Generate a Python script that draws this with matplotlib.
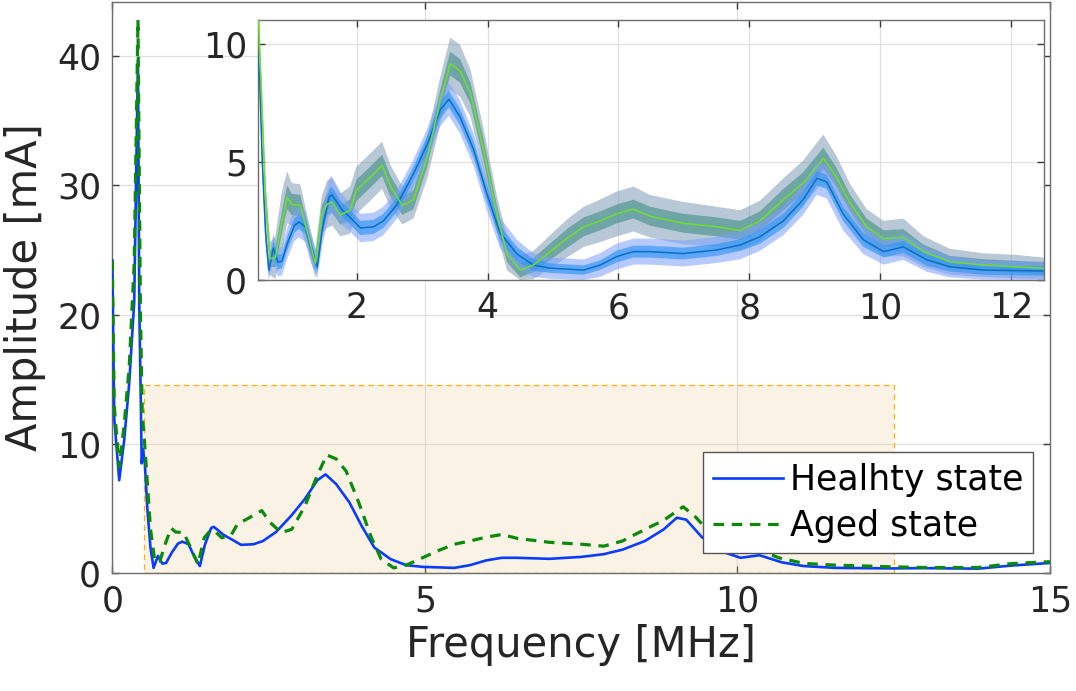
import numpy as np
import matplotlib
matplotlib.use("Agg")
import matplotlib.pyplot as plt
from matplotlib.patches import Rectangle

plt.rcParams['font.family'] = ['DejaVu Sans']

# ---------------- data ----------------
freq_healthy = [0.00, 0.03, 0.11, 0.19, 0.27, 0.35, 0.41, 0.43, 0.455, 0.47,
                0.49, 0.52, 0.56, 0.61, 0.66, 0.73, 0.80, 0.86, 0.95, 1.05,
                1.12, 1.22, 1.30, 1.40, 1.48, 1.58, 1.62, 1.70, 1.77, 1.90,
                2.06, 2.26, 2.41, 2.62, 2.87, 3.08, 3.28, 3.41, 3.58, 3.79,
                3.99, 4.19, 4.45, 4.70, 4.96, 5.47, 5.72, 5.98, 6.23, 6.48,
                6.99, 7.50, 7.86, 8.16, 8.52, 8.82, 9.03, 9.18, 9.43, 9.74,
                10.05, 10.35, 10.71, 11.06, 11.57, 12.48, 13.00, 13.85, 14.38, 15.00]
amp_healthy = [24.2, 12.0, 7.2, 10.3, 14.7, 21.0, 39.7, 21.0, 13.4, 8.5,
               9.6, 8.5, 5.0, 2.0, 0.42, 1.35, 0.75, 0.8, 1.6, 2.3,
               2.45, 2.25, 1.4, 0.56, 2.2, 3.5, 3.6, 3.3, 3.0, 2.65,
               2.2, 2.25, 2.5, 3.2, 4.5, 5.75, 7.2, 7.65, 6.9, 5.5,
               3.65, 2.0, 1.1, 0.63, 0.5, 0.42, 0.63, 1.0, 1.2, 1.2,
               1.12, 1.27, 1.48, 1.83, 2.5, 3.4, 4.3, 4.15, 2.8, 1.7,
               1.2, 1.4, 0.85, 0.56, 0.42, 0.38, 0.4, 0.36, 0.6, 0.8]
spread_healthy_inner = [0.3] * 10 + [0.3, 0.3, 0.3, 0.3, 0.25, 0.3, 0.3, 0.3, 0.3, 0.3,
                        0.3, 0.3, 0.3, 0.25, 0.3, 0.35, 0.35, 0.3, 0.3, 0.3,
                        0.3, 0.3, 0.3, 0.3, 0.3, 0.35, 0.35, 0.35, 0.35, 0.35,
                        0.35, 0.3, 0.3, 0.25, 0.2, 0.2, 0.2, 0.25, 0.25, 0.25,
                        0.25, 0.25, 0.25, 0.3, 0.3, 0.3, 0.3, 0.3, 0.3, 0.3,
                        0.25, 0.25, 0.25, 0.2, 0.2, 0.2, 0.2, 0.2, 0.2, 0.2]
spread_healthy_outer = [0.6] * 10 + [0.6, 0.6, 0.6, 0.6, 0.5, 0.6, 0.6, 0.6, 0.65, 0.65,
                        0.65, 0.65, 0.6, 0.5, 0.7, 0.8, 0.8, 0.7, 0.65, 0.6,
                        0.6, 0.6, 0.6, 0.6, 0.6, 0.65, 0.7, 0.7, 0.7, 0.7,
                        0.7, 0.65, 0.6, 0.5, 0.45, 0.45, 0.5, 0.55, 0.55, 0.55,
                        0.55, 0.55, 0.6, 0.6, 0.6, 0.65, 0.7, 0.7, 0.7, 0.6,
                        0.55, 0.55, 0.5, 0.45, 0.4, 0.4, 0.4, 0.4, 0.4, 0.4]

freq_aged = [0.00, 0.03, 0.11, 0.19, 0.27, 0.35, 0.41, 0.45, 0.48, 0.50,
             0.56, 0.61, 0.68, 0.76, 0.86, 0.94, 1.01, 1.14, 1.25, 1.37,
             1.47, 1.55, 1.63, 1.75, 1.90, 2.00, 2.21, 2.39, 2.52, 2.70,
             2.87, 3.08, 3.28, 3.43, 3.58, 3.74, 3.94, 4.14, 4.30, 4.50,
             4.70, 4.96, 5.21, 5.47, 5.72, 5.98, 6.23, 6.48, 6.99, 7.50,
             7.86, 8.16, 8.52, 8.82, 9.13, 9.33, 9.54, 9.79, 10.05, 10.35,
             10.66, 11.06, 11.57, 12.08, 12.48, 13.00, 13.85, 14.38, 15.00]
amp_aged = [24.2, 13.0, 8.2, 11.5, 16.0, 24.0, 42.8, 20.0, 12.0, 11.2,
            7.0, 3.45, 0.9, 0.95, 2.45, 3.5, 3.2, 3.15, 2.0, 0.7,
            2.75, 3.2, 3.3, 2.75, 2.95, 3.8, 4.35, 4.85, 3.95, 3.15,
            3.4, 5.2, 7.6, 9.15, 8.85, 7.9, 5.5, 2.8, 1.1, 0.42,
            0.63, 1.2, 1.75, 2.25, 2.5, 2.8, 3.0, 2.7, 2.4, 2.25,
            2.1, 2.5, 3.4, 4.1, 5.15, 4.35, 3.25, 2.25, 1.75, 1.8,
            1.2, 0.77, 0.63, 0.56, 0.5, 0.45, 0.45, 0.75, 0.9]
spread_aged_inner = [0.4] * 10 + [0.4, 0.4, 0.35, 0.4, 0.45, 0.5, 0.45, 0.45, 0.35, 0.3,
                     0.4, 0.45, 0.45, 0.4, 0.45, 0.45, 0.45, 0.45, 0.45, 0.4,
                     0.4, 0.4, 0.45, 0.5, 0.5, 0.45, 0.45, 0.4, 0.35, 0.3,
                     0.3, 0.35, 0.4, 0.4, 0.4, 0.4, 0.4, 0.4, 0.4, 0.4,
                     0.4, 0.4, 0.45, 0.45, 0.45, 0.4, 0.35, 0.35, 0.35, 0.35,
                     0.3, 0.25, 0.25, 0.25, 0.25, 0.25, 0.25, 0.25, 0.25]
spread_aged_outer = [0.8] * 10 + [0.8, 0.8, 0.7, 0.9, 1.3, 1.1, 0.9, 0.9, 0.7, 0.6,
                     0.8, 1.0, 1.0, 0.9, 1.0, 1.0, 1.0, 1.0, 0.9, 0.8,
                     0.8, 0.9, 1.0, 1.1, 1.1, 1.0, 0.9, 0.8, 0.7, 0.6,
                     0.6, 0.7, 0.8, 0.85, 0.9, 0.95, 0.95, 0.9, 0.9, 0.85,
                     0.85, 0.85, 0.9, 0.95, 1.0, 0.9, 0.8, 0.75, 0.75, 0.8,
                     0.65, 0.55, 0.5, 0.5, 0.45, 0.45, 0.45, 0.45, 0.45]

main_xticks = [0, 5, 10, 15]
main_yticks = [0, 10, 20, 30, 40]
inset_xticks = [2, 4, 6, 8, 10, 12]
inset_yticks = [0, 5, 10]
zoom_x = (0.5, 12.5)
zoom_top = 14.6
legend_labels = ['Healhty state', 'Aged state']
x_label = 'Frequency [MHz]'
y_label = 'Amplitude [mA]'

# ---------------- styling helpers ----------------
SPINE = '#6e6e6e'
TXT = '#262626'
GRID = '#e0e0e0'


def matlab_style(a, fs):
    for s in a.spines.values():
        s.set_color(SPINE)
        s.set_linewidth(1.0)
    a.tick_params(direction='in', top=True, right=True, length=5, width=1,
                  color='#3a3a3a', labelsize=fs, labelcolor=TXT, pad=8)
    a.grid(True, color=GRID, linewidth=0.9)
    a.set_axisbelow(True)


fig = plt.figure(figsize=(10.76, 6.91), dpi=100)

# ---------------- main axes ----------------
ax = fig.add_axes([0.1044, 0.1703, 0.8715, 0.8272])
matlab_style(ax, 25)
ax.set_xlim(0, 15)
ax.set_ylim(0, 44.2)
ax.set_xticks(main_xticks)
ax.set_yticks(main_yticks)

rect = Rectangle((zoom_x[0], 0), zoom_x[1] - zoom_x[0], zoom_top,
                 facecolor='#ecc98a', alpha=0.22, edgecolor='none', zorder=1)
ax.add_patch(rect)
rect_edge = Rectangle((zoom_x[0], 0), zoom_x[1] - zoom_x[0], zoom_top,
                      facecolor='none', edgecolor='#f5b320', linewidth=1.0,
                      linestyle=(0, (4, 3)), zorder=1.5)
ax.add_patch(rect_edge)

ax.plot(freq_healthy, amp_healthy, color='#0a3cff', linewidth=1.9,
        label=legend_labels[0], zorder=3)
ax.plot(freq_aged, amp_aged, color='#0a8a0a', linewidth=2.3,
        linestyle=(0, (3.3, 2.4)), label=legend_labels[1], zorder=4)

ax.set_xlabel(x_label, fontsize=30, color=TXT, labelpad=4)
ax.set_ylabel(y_label, fontsize=30, color=TXT, labelpad=8)

leg = ax.legend(loc='lower left', bbox_to_anchor=(0.6296, 0.035),
                fontsize=25, frameon=True, fancybox=False, framealpha=1,
                edgecolor='#555555', handlelength=2.0, handletextpad=0.2,
                borderpad=0.3, labelspacing=0.35, borderaxespad=0)
leg.get_frame().set_linewidth(1.0)
for t in leg.get_texts():
    t.set_color('black')

# ---------------- inset axes ----------------
ins = fig.add_axes([0.2401, 0.5948, 0.7302, 0.3763])
matlab_style(ins, 25)
ins.set_xlim(*zoom_x)
ins.set_ylim(0, 11)
ins.set_xticks(inset_xticks)
ins.set_yticks(inset_yticks)
ins.set_facecolor('white')

fh = np.array(freq_healthy)
mh = np.array(amp_healthy)
fa = np.array(freq_aged)
ma = np.array(amp_aged)
hi = np.array(spread_healthy_inner)
ho = np.array(spread_healthy_outer)
ai = np.array(spread_aged_inner)
ao = np.array(spread_aged_outer)

ins.fill_between(fa, np.clip(ma - ao, 0, None), ma + ao, color='#7f9bb5',
                 alpha=0.55, linewidth=0, zorder=2)
ins.fill_between(fa, np.clip(ma - ai, 0, None), ma + ai, color='#3f8f86',
                 alpha=0.6, linewidth=0, zorder=2.1)
ins.fill_between(fh, np.clip(mh - ho, 0, None), mh + ho, color='#7aa0ff',
                 alpha=0.55, linewidth=0, zorder=2.2)
ins.fill_between(fh, np.clip(mh - hi, 0, None), mh + hi, color='#2f95f5',
                 alpha=0.65, linewidth=0, zorder=2.3)
ins.plot(fh, mh, color='#0a6fc0', linewidth=1.1, zorder=3)
ins.plot(fa, ma, color='#6fe02a', linewidth=1.1, zorder=3.1)

fig.savefig('out.png', dpi=100)
